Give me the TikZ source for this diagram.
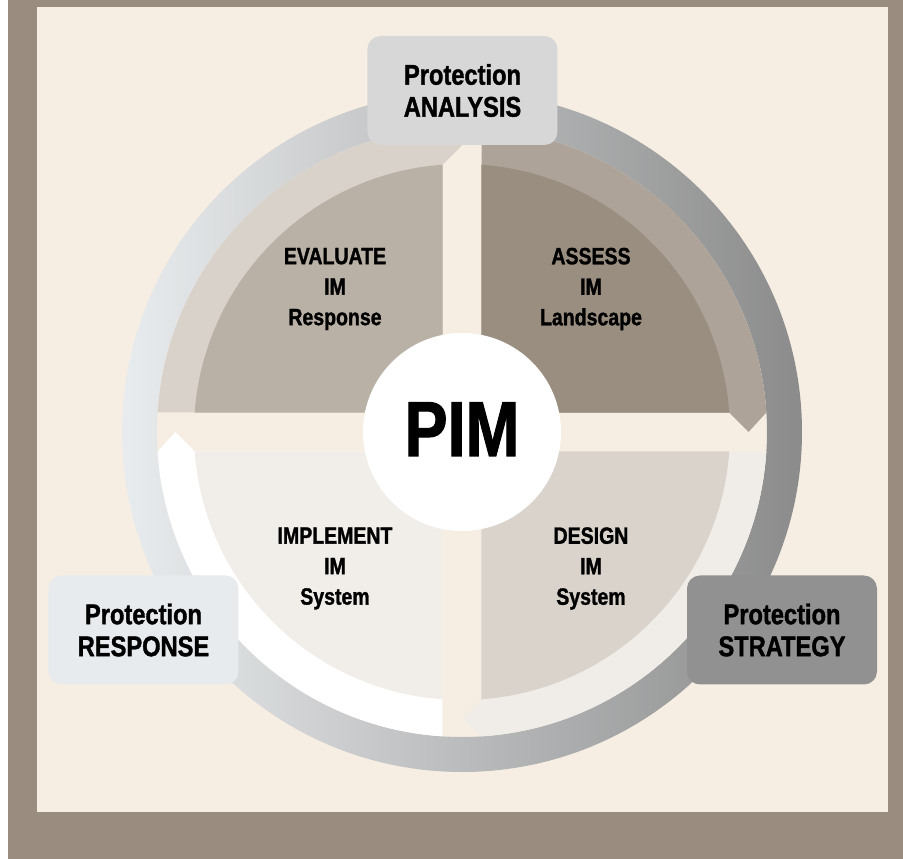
\documentclass[tikz,border=0pt]{standalone}
\usepackage{fontspec}
\newfontfamily\condfont{Liberation Sans}[FakeStretch=0.83, BoldFeatures={FakeBold=1.3}]
\usetikzlibrary{positioning}

\definecolor{framecol}{HTML}{9A8D80}
\definecolor{creamcol}{HTML}{F6EEE2}
\definecolor{ringleft}{HTML}{E9ECEE}
\definecolor{ringmid}{HTML}{D0D2D3}
\definecolor{ringright}{HTML}{8B8B8B}
\definecolor{evalband}{HTML}{D9D2CA}
\definecolor{evalsect}{HTML}{B9B0A6}
\definecolor{assessband}{HTML}{ADA398}
\definecolor{assesssect}{HTML}{9A8E81}
\definecolor{designband}{HTML}{F0EDE9}
\definecolor{designsect}{HTML}{D9D3CC}
\definecolor{implband}{HTML}{FFFFFF}
\definecolor{implsect}{HTML}{F1EEEA}
\definecolor{analysisbox}{HTML}{D6D7D6}
\definecolor{responsebox}{HTML}{E8EBEE}
\definecolor{strategybox}{HTML}{919191}

\tikzset{
  protbox/.style={rounded corners=13pt, minimum width=190pt, minimum height=109pt,
    align=center, inner sep=0pt, text=black,
    font=\condfont\bfseries\fontsize{28.5}{32}\selectfont},
  quadlabel/.style={align=center, inner sep=0pt,
    font=\condfont\bfseries\fontsize{23.5}{30.5}\selectfont}
}

\begin{document}
\begin{tikzpicture}[x=1pt, y=1pt]
    \useasboundingbox (-462,-427) rectangle (441,432);
    \fill[framecol] (-462,-427) rectangle (441,432);
    \fill[white] (-462,-427) rectangle (-454,432);
    \fill[creamcol] (-425,-380) rectangle (426,425);

    \shade[even odd rule, left color=ringleft, middle color=ringmid, right color=ringright]
        (0,0) circle[radius=340pt] (0,0) circle[radius=305pt];

    \foreach \rot/\bandcol/\sectcol in {0/assessband/assesssect, -90/designband/designsect,
                                        180/implband/implsect, 90/evalband/evalsect}{
        \begin{scope}[rotate=\rot]
            \fill[\bandcol] (19.5,19.5) -- (86.33:305pt)
                arc[start angle=86.33, end angle=3.67, radius=305pt]
                -- (286.5,0) -- (4.17:268pt) -- cycle;
            \fill[\sectcol] (19.5,19.5) -- (85.83:268pt)
                arc[start angle=85.83, end angle=4.17, radius=268pt] -- cycle;
        \end{scope}
    }

    \fill[white] (0,0) circle[radius=99pt];
    \node[anchor=base, inner sep=0pt, font=\condfont\bfseries\fontsize{78}{80}\selectfont]
        (pim) at (0,-24) {PIM};

    \node[protbox, fill=analysisbox] (analysis) at (0.5,341.5) {Protection\\ANALYSIS};
    \node[protbox, fill=responsebox] (response) at (-318.5,-198) {Protection\\RESPONSE};
    \node[protbox, fill=strategybox] (strategy) at (320,-198) {Protection\\STRATEGY};

    \node[quadlabel] (evaluate) at (-127,143) {EVALUATE\\IM\\Response};
    \node[quadlabel] (assess) at (129,143) {ASSESS\\IM\\Landscape};
    \node[quadlabel] (implement) at (-127,-136.5) {IMPLEMENT\\IM\\System};
    \node[quadlabel] (design) at (129,-136.5) {DESIGN\\IM\\System};
\end{tikzpicture}
\end{document}
